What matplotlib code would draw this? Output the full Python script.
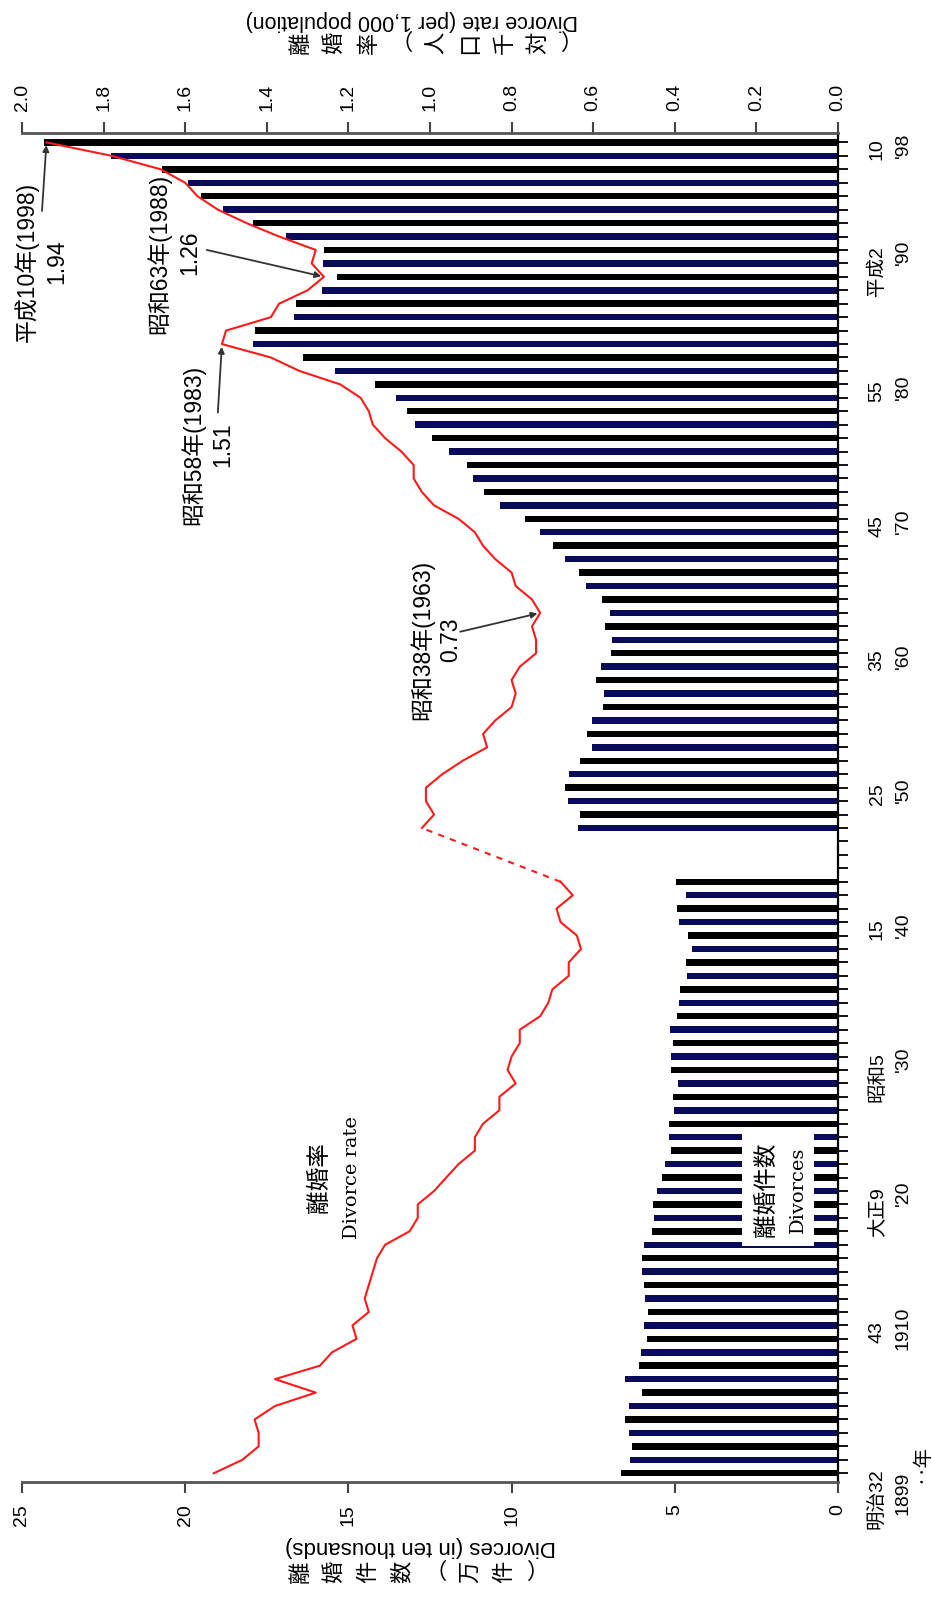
import matplotlib
matplotlib.use("Agg")
import matplotlib.pyplot as plt
from matplotlib.patches import Rectangle
import matplotlib.transforms as mtransforms

# ---- data ----
years_pre = list(range(1899, 1944))
years_post = list(range(1947, 1999))
years = years_pre + years_post

# divorces, in ten thousands
divorces_pre = [
    6.65, 6.38, 6.32, 6.41, 6.54, 6.39, 6.01, 6.54, 6.11, 6.04,
    5.84, 5.94, 5.81, 5.91, 5.95, 6.00, 5.99, 5.95, 5.69, 5.65,
    5.68, 5.55, 5.40, 5.31, 5.12, 5.18, 5.17, 5.01, 5.06, 4.91,
    5.12, 5.13, 5.06, 5.14, 4.93, 4.86, 4.85, 4.62, 4.65, 4.47,
    4.60, 4.86, 4.94, 4.67, 4.97,
]
divorces_post = [
    7.96, 7.90, 8.26, 8.37, 8.23, 7.90, 7.53, 7.68, 7.53, 7.20,
    7.17, 7.40, 7.25, 6.94, 6.93, 7.14, 7.00, 7.23, 7.72, 7.94,
    8.35, 8.73, 9.13, 9.59, 10.36, 10.84, 11.19, 11.36, 11.91, 12.45,
    12.95, 13.21, 13.53, 14.17, 15.42, 16.40, 17.92, 17.87, 16.66, 16.61,
    15.82, 15.36, 15.78, 15.76, 16.90, 17.92, 18.83, 19.51, 19.90, 20.70,
    22.26, 24.32,
]
divorces = divorces_pre + divorces_post

# divorce rate per 1,000 population
rate_pre = [
    1.53, 1.46, 1.42, 1.42, 1.43, 1.38, 1.28, 1.38, 1.27, 1.24,
    1.18, 1.19, 1.15, 1.16, 1.15, 1.14, 1.13, 1.11, 1.05, 1.03,
    1.03, 0.99, 0.96, 0.93, 0.89, 0.89, 0.87, 0.83, 0.83, 0.79,
    0.81, 0.80, 0.78, 0.78, 0.73, 0.71, 0.70, 0.66, 0.66, 0.63,
    0.64, 0.68, 0.69, 0.65, 0.68,
]
rate_post = [
    1.02, 0.99, 1.01, 1.01, 0.97, 0.92, 0.86, 0.87, 0.84, 0.80,
    0.79, 0.80, 0.78, 0.74, 0.74, 0.75, 0.73, 0.75, 0.79, 0.80,
    0.84, 0.87, 0.89, 0.93, 0.99, 1.02, 1.04, 1.04, 1.07, 1.11,
    1.14, 1.15, 1.17, 1.22, 1.32, 1.39, 1.51, 1.50, 1.39, 1.37,
    1.30, 1.26, 1.29, 1.28, 1.37, 1.45, 1.52, 1.57, 1.60, 1.66,
    1.78, 1.94,
]

tick_years = [1998, 1990, 1980, 1970, 1960, 1950, 1940, 1930, 1920, 1910, 1899]
era_labels = ["10", "平成2", "55", "45", "35", "25", "15", "昭和5", "大正9", "43", "明治32"]
west_labels = ["'98", "'90", "'80", "'70", "'60", "'50", "'40", "'30", "'20", "1910", "1899"]

rate_ticks = [0.0, 0.2, 0.4, 0.6, 0.8, 1.0, 1.2, 1.4, 1.6, 1.8, 2.0]
divorce_ticks = [0, 5, 10, 15, 20, 25]

JP = ["Noto Sans CJK JP", "DejaVu Sans"]
SANS = ["Liberation Sans", "Noto Sans CJK JP", "DejaVu Sans"]
SERIF = ["DejaVu Serif"]

W, H = 932, 1600
fig = plt.figure(figsize=(W / 100, H / 100), dpi=100)
fig.patch.set_facecolor("white")

L, R, T, B = 22, 838, 133, 1482
ax = fig.add_axes([L / W, 1 - B / H, (R - L) / W, (B - T) / H])

# bars (alternating black / navy like the scanned original)
n_top = len(years)
colors = ["#000000" if (n_top - 1 - i) % 2 == 0 else "#0a0a5a" for i in range(n_top)]
ax.barh(years, divorces, height=0.48, color=colors, zorder=2)
ax.set_xlim(25, 0)
ax.set_ylim(1898.35, 1998.7)

for s in ["left", "top"]:
    ax.spines[s].set_visible(False)
ax.spines["bottom"].set_color("#555555")
ax.spines["bottom"].set_linewidth(2.0)
ax.spines["right"].set_color("black")
ax.spines["right"].set_linewidth(1.6)

ax.set_xticks(divorce_ticks)
ax.set_xticklabels([str(v) for v in divorce_ticks], rotation=90, fontsize=14,
                   family=SANS)
ax.tick_params(axis="x", direction="out", length=8, width=1.5, color="#444444", pad=8)
ax.yaxis.tick_right()
ax.set_yticks(years_pre + [1944, 1945, 1946] + years_post)
ax.set_yticklabels([])
ax.tick_params(axis="y", direction="out", length=7, width=1.3, color="black")

# rate line on top axis
ax2 = ax.twiny()
ax2.set_xlim(2.0, 0)
for s in ["left", "right", "bottom"]:
    ax2.spines[s].set_visible(False)
ax2.spines["top"].set_color("#555555")
ax2.spines["top"].set_linewidth(2.0)
ax2.set_xticks(rate_ticks)
ax2.set_xticklabels([f"{v:.1f}" for v in rate_ticks], rotation=90, fontsize=14,
                    family=SANS)
ax2.tick_params(axis="x", direction="out", length=8, width=1.5, color="#444444", pad=8)

ax2.plot(rate_pre, years_pre, color="#ff1a1a", lw=1.5, zorder=4)
ax2.plot(rate_post, years_post, color="#ff1a1a", lw=1.5, zorder=4)
ax2.plot([rate_pre[-1], rate_post[0]], [years_pre[-1], years_post[0]],
         color="#ff1a1a", lw=1.5, ls=(0, (3, 3)), zorder=4)

# year labels to the right of the axis
tr = mtransforms.blended_transform_factory(ax.transAxes, ax.transData)
for yr, era, west in zip(tick_years, era_labels, west_labels):
    if yr == 1899:
        ax.text(1.048, yr + 0.4, era, transform=tr, rotation=90, ha="center",
                va="top", fontsize=14, family=SANS)
        ax.text(1.080, yr + 0.1, west, transform=tr, rotation=90, ha="center",
                va="top", fontsize=14, family=SANS)
    else:
        ax.text(1.048, yr + 0.3, era, transform=tr, rotation=90, ha="center",
                va="top", fontsize=14, family=SANS)
        ax.text(1.080, yr - 0.2, west, transform=tr, rotation=90, ha="center",
                va="center", fontsize=14, family=SANS)
ax.text(1.101, 1899 + 2.2, "‥年", transform=tr, rotation=90, ha="center",
        va="top", fontsize=14, family=JP)

# legend-like labels
ax.add_patch(Rectangle((0.75, 1915.9), 2.2, 8.6, facecolor="white",
                       edgecolor="none", zorder=3))
ax.text(2.18, 1920.1, "離婚件数", rotation=90, ha="center", va="center",
        fontsize=17, family=JP, zorder=5)
ax.text(1.22, 1920.1, "Divorces", rotation=90, ha="center", va="center",
        fontsize=14, family=SERIF, zorder=5)
ax2.text(1.27, 1921.0, "離婚率", rotation=90, ha="center", va="center",
         fontsize=17, family=JP, zorder=5)
ax2.text(1.19, 1921.0, "Divorce rate", rotation=90, ha="center", va="center",
         fontsize=14, family=SERIF, zorder=5)

# annotations
notes = [
    # (label, value text, point, label pos, value pos, arrow start)
    ("平成10年(1998)", "1.94", (1.94, 1998), (1.988, 1989.1), (1.916, 1989.1), (1.951, 1992.9)),
    ("昭和63年(1988)", "1.26", (1.26, 1988), (1.664, 1989.7), (1.590, 1989.8), (1.547, 1990.0)),
    ("昭和58年(1983)", "1.51", (1.51, 1983), (1.581, 1975.5), (1.509, 1975.5), (1.520, 1977.9)),
    ("昭和38年(1963)", "0.73", (0.73, 1963), (1.020, 1961.0), (0.950, 1961.0), (0.926, 1961.6)),
]
for lab, val, pt, lpos, vpos, start in notes:
    ax2.text(lpos[0], lpos[1], lab, rotation=90, ha="center", va="center",
             fontsize=16.5, family=SANS, zorder=6)
    ax2.text(vpos[0], vpos[1], val, rotation=90, ha="center", va="center",
             fontsize=16.5, family=SANS, zorder=6)
    ax2.annotate("", xy=pt, xytext=start,
                 arrowprops=dict(arrowstyle="-|>", color="#333333", lw=1.3,
                                 mutation_scale=9, shrinkA=0, shrinkB=2),
                 zorder=6)

# axis titles, drawn as the rotated scan shows them
def glyph_row(chars, x0, y, step, size):
    for i, ch in enumerate(chars):
        rot = 0 if ch in "（）" else 90
        fig.text((x0 + i * step) / W, 1 - y / H, ch, rotation=rot, ha="center",
                 va="center", fontsize=size, family=JP)

fig.text(412 / W, 1 - 20 / H, "Divorce rate (per 1,000 population)", rotation=180,
         ha="center", va="center", fontsize=15.5, family=SANS)
glyph_row("離婚率（人口千対）", 300, 43, 34, 16)

fig.text(420 / W, 1 - 1547 / H, "Divorces (in ten thousands)", rotation=180,
         ha="center", va="center", fontsize=16, family=SANS)
glyph_row("離婚件数（万件）", 300, 1572, 34, 16)

fig.savefig("out.png", dpi=100, facecolor="white")
